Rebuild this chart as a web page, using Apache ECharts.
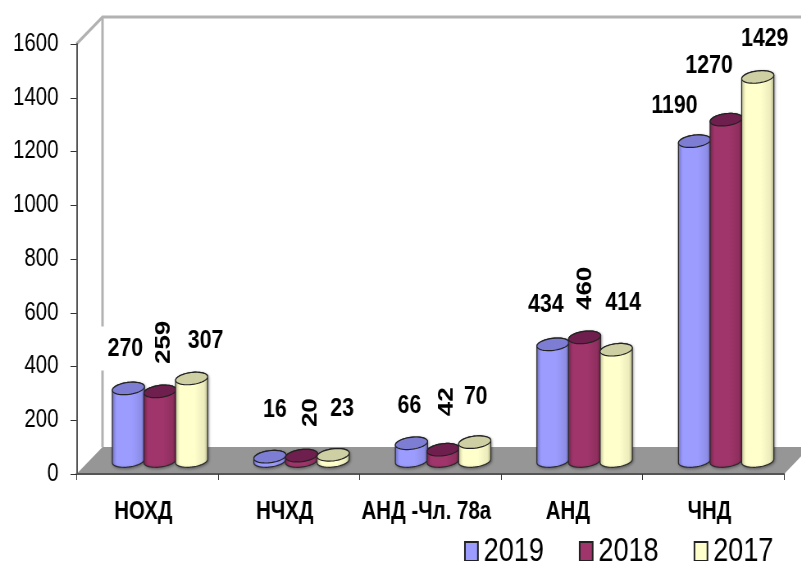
<!DOCTYPE html>
<html><head><meta charset="utf-8">
<style>html,body{margin:0;padding:0;background:#fff;width:801px;height:561px;overflow:hidden}
#c{width:977px;height:561px;transform:scaleX(0.82);transform-origin:0 0;filter:blur(0.25px)}</style>
<script src="https://cdn.jsdelivr.net/npm/echarts@6/dist/echarts.min.js"></script>
</head><body><div id="c"></div>
<script>
const categories = ['НОХД', 'НЧХД', 'АНД -Чл. 78а', 'АНД', 'ЧНД'];
const values2019 = [270, 16, 66, 434, 1190];
const values2018 = [259, 20, 42, 460, 1270];
const values2017 = [307, 23, 70, 414, 1429];
const yTicks = { min: 0, max: 1600, interval: 200 };

const SANS = '"Liberation Sans",Arial,sans-serif';
const SX = 0.82;             // the whole picture is horizontally condensed
const X = px => px / SX;

// offsets of each value label from the top of its cylinder, and its rotation
const labelOffsets = [
  [[-3,-40],[5,-47],[-2,-37],[-7,-40],[-20,-35]],
  [[3.5,-49],[9,-43],[4,-48],[1,-49],[-17,-54]],
  [[14,-38],[9,-46],[1,-45],[7,-47],[7,-38]]
];
const labelRotated = [[0,0,0,0,0],[1,1,1,1,0],[0,0,0,0,0]];

const styles = [
  { body: ['#8383e0','#9c9cff','#9c9cff','#8e8ee8','#6a6ab0'], top: '#7d7dd4' },
  { body: ['#862c59','#a0356b','#a0356b','#8f2f5f','#6c2146'], top: '#6f1f4d' },
  { body: ['#e0e0b0','#ffffcc','#ffffcc','#ecECBC','#b4b48c'], top: '#cfcfa4' }
];
const grad = c => new echarts.graphic.LinearGradient(0,0,1,0,[
  {offset:0,color:c[0]},{offset:.15,color:c[1]},{offset:.6,color:c[2]},{offset:.88,color:c[3]},{offset:1,color:c[4]}]);

const TILT = 0.1;
function ellipsePts(cx, cy, rx, ry, from, to, n) {
  const pts = [];
  for (let i = 0; i <= n; i++) {
    const a = from + (to - from) * i / n;
    const x = rx * Math.cos(a), y = ry * Math.sin(a);
    pts.push([cx + x * Math.cos(TILT) + y * Math.sin(TILT), cy - x * Math.sin(TILT) + y * Math.cos(TILT)]);
  }
  return pts;
}

function cylinder(idx) {
  return function (params, api) {
    const cat = api.value(0), val = api.value(1);
    const band = api.size([1, 0])[0];
    const base = api.coord([cat, 0]);
    const top = api.coord([cat, val]);
    const step = band * 0.2235;
    const dx = band * 0.09, dy = 13;
    const cx = base[0] + dx + (idx - 1) * step;
    const rx = step / 2 + 0.4, ry = 6;
    const yb = base[1] - dy, yt = top[1] - dy;
    const st = styles[idx];
    const outline = ellipsePts(cx, yb, rx, ry, 0, Math.PI, 24).concat(ellipsePts(cx, yt, rx, ry, Math.PI, 2 * Math.PI, 24));
    const offs = labelOffsets[idx][params.dataIndex];
    const rot = labelRotated[idx][params.dataIndex];
    const masked = idx === 0 && params.dataIndex === 0;
    return {
      type: 'group',
      children: [
        { type: 'polygon', shape: { points: outline },
          style: { fill: grad(st.body), stroke: '#2a2a2a', lineWidth: 1.2, shadowColor: 'rgba(0,0,0,.35)', shadowBlur: 3, shadowOffsetX: 1, shadowOffsetY: 1 } },
        { type: 'polygon', shape: { points: ellipsePts(cx, yt, rx, ry, 0, 2 * Math.PI, 48) },
          style: { fill: st.top, stroke: '#222', lineWidth: 1.2 } },
        { type: 'text', x: cx + X(offs[0]), y: yt + offs[1], rotation: rot ? Math.PI / 2 : 0, z2: 50,
          style: { text: String(val), fontFamily: SANS, fontWeight: 'bold', fontSize: 26, fill: '#000',
                   align: 'center', verticalAlign: 'middle',
                   backgroundColor: masked ? '#fff' : 'transparent', padding: masked ? [9, 10, 9, 10] : 0 } }
      ]
    };
  };
}

function frame(params) {
  const g = params.coordSys, D = { x: X(26), y: 27 };
  const L = g.x, R = g.x + g.width, T = g.y, B = g.y + g.height;
  const wall = { stroke: '#b2b2b2', lineWidth: 3 };
  return {
    type: 'group',
    children: [
      { type: 'polyline', shape: { points: [[L, T], [L + D.x, T - D.y], [R + D.x, T - D.y]] }, style: { ...wall, fill: null } },
      { type: 'line', shape: { x1: L + D.x, y1: T - D.y, x2: L + D.x, y2: B - D.y }, style: wall },
      { type: 'polygon', shape: { points: [[L, B], [L + D.x, B - D.y], [R + D.x, B - D.y], [R, B]] }, style: { fill: '#969696' } }
    ]
  };
}

const mk = (name, vals, i) => ({
  name, type: 'custom', renderItem: cylinder(i), clip: false, z: 3 + i,
  itemStyle: { color: styles[i].body[1] },
  encode: { x: 0, y: 1 },
  data: vals.map((v, k) => [k, v])
});

const chart = echarts.init(document.getElementById('c'), null, { renderer: 'canvas' });
chart.setOption({
  animation: false,
  backgroundColor: '#fff',
  grid: { left: X(76.5), right: X(17), top: 44, bottom: 87 },
  legend: {
    left: X(460), top: 530, icon: 'rect', itemWidth: X(13), itemHeight: 19, itemGap: X(35),
    data: ['2019', '2018', '2017'],
    itemStyle: { borderColor: '#222', borderWidth: 2 },
    textStyle: { fontFamily: SANS, fontSize: 33, color: '#000', padding: [0, 0, 0, 2] },
    selectedMode: false
  },
  xAxis: {
    type: 'category', data: categories, boundaryGap: true,
    axisLine: { show: true, lineStyle: { color: '#555', width: 2 } },
    axisTick: { show: true, alignWithLabel: false, length: 6, lineStyle: { color: '#333', width: 1 } },
    axisLabel: { interval: 0, margin: 26, fontFamily: SANS, fontWeight: 'bold', fontSize: 25, color: '#000', padding: [0, X(8), 0, 0] },
    splitLine: { show: false }, z: 10
  },
  yAxis: {
    type: 'value', min: yTicks.min, max: yTicks.max, interval: yTicks.interval,
    axisLine: { show: true, lineStyle: { color: '#555', width: 2 } },
    axisTick: { show: true, length: X(6), lineStyle: { color: '#333', width: 1 } },
    axisLabel: { margin: X(18), fontFamily: SANS, fontSize: 25, color: '#000', padding: [7, 0, 0, 0], formatter: v => String(v) },
    splitLine: { show: false }, z: 10
  },
  series: [
    { name: 'frame', type: 'custom', renderItem: frame, clip: false, silent: true, z: 1, data: [[0, 0]], encode: { x: 0, y: 1 } },
    mk('2019', values2019, 0),
    mk('2018', values2018, 1),
    mk('2017', values2017, 2)
  ]
});
</script></body></html>
